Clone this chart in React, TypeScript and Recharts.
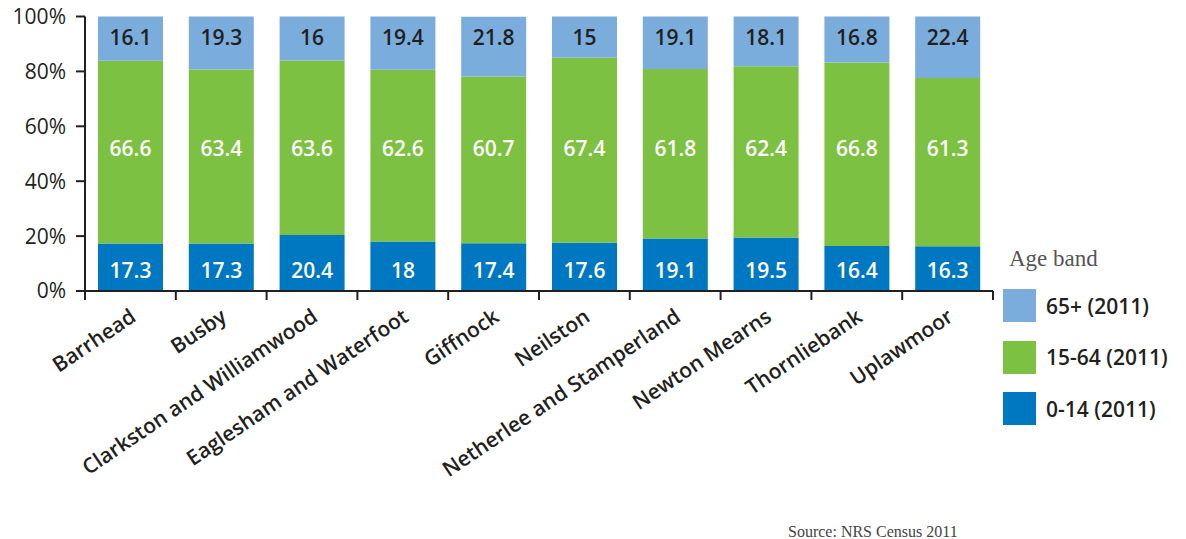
import { Bar, BarChart, LabelList, XAxis, YAxis } from "recharts"

const categories = [
  "Barrhead",
  "Busby",
  "Clarkston and Williamwood",
  "Eaglesham and Waterfoot",
  "Giffnock",
  "Neilston",
  "Netherlee and Stamperland",
  "Newton Mearns",
  "Thornliebank",
  "Uplawmoor",
]
const age0to14 = [17.3, 17.3, 20.4, 18, 17.4, 17.6, 19.1, 19.5, 16.4, 16.3]
const age15to64 = [66.6, 63.4, 63.6, 62.6, 60.7, 67.4, 61.8, 62.4, 66.8, 61.3]
const age65plus = [16.1, 19.3, 16, 19.4, 21.8, 15, 19.1, 18.1, 16.8, 22.4]
const yTicks = [0, 20, 40, 60, 80, 100]

const seriesInfo = [
  { key: "old", name: "65+ (2011)", color: "#7aaddc" },
  { key: "mid", name: "15-64 (2011)", color: "#7dc142" },
  { key: "young", name: "0-14 (2011)", color: "#0078c1" },
]

const data = categories.map((name, i) => ({
  name,
  young: age0to14[i],
  mid: age15to64[i],
  old: age65plus[i],
}))

const FONT = "'Open Sans', sans-serif"
const SERIF = "'Liberation Serif', 'Times New Roman', serif"
const TEXT = "#231f20"
const PLOT_TOP = 16.5
const PLOT_BOTTOM = 291

function box(props) {
  const vb = props.viewBox ?? props
  return { x: vb.x, y: vb.y, width: vb.width, height: vb.height }
}

function valueLabel(kind) {
  return (props) => {
    const { x, y, width, height } = box(props)
    let cy
    if (kind === "old") cy = y + 20
    else if (kind === "young") cy = y + height - 21
    else cy = PLOT_BOTTOM - 0.52 * (PLOT_BOTTOM - PLOT_TOP)
    return (
      <text
        x={x + width / 2}
        y={cy}
        textAnchor="middle"
        dominantBaseline="central"
        fontFamily={FONT}
        fontWeight={600}
        fontSize={21}
        fill={kind === "old" ? TEXT : "#ffffff"}
      >
        {props.value}
      </text>
    )
  }
}

function CategoryTick(props) {
  const { x, y, payload, index } = props
  const half = payload?.offset || 45.4
  const tx = x + 7
  const ty = y + 29
  return (
    <g>
      <line x1={x - half} y1={y} x2={x - half} y2={y + 9} stroke={TEXT} strokeWidth={2} />
      {index === categories.length - 1 && (
        <line x1={x + half} y1={y} x2={x + half} y2={y + 9} stroke={TEXT} strokeWidth={2} />
      )}
      <text
        x={tx}
        y={ty}
        textAnchor="end"
        transform={`rotate(-34, ${tx}, ${ty})`}
        fontFamily={FONT}
        fontWeight={600}
        fontSize={21}
        fill={TEXT}
      >
        {payload.value}
      </text>
    </g>
  )
}

export default function App() {
  return (
    <div style={{ position: "relative", width: 1186, height: 539, background: "#fff" }}>
      <style>{"body{margin:0}"}</style>
      <BarChart
        width={1186}
        height={539}
        data={data}
        barSize={65}
        margin={{ top: PLOT_TOP, right: 193, bottom: 48, left: 0 }}
      >
        <XAxis
          dataKey="name"
          interval={0}
          height={200}
          tickSize={0}
          tickMargin={0}
          tickLine={false}
          axisLine={{ stroke: TEXT, strokeWidth: 2 }}
          tick={<CategoryTick />}
        />
        <YAxis
          width={85}
          domain={[0, 100]}
          ticks={yTicks}
          tickFormatter={(v) => `${v}%`}
          tickSize={9}
          tickMargin={10}
          axisLine={{ stroke: TEXT, strokeWidth: 2 }}
          tickLine={{ stroke: TEXT, strokeWidth: 2 }}
          tick={{ fontFamily: FONT, fontSize: 21, fill: TEXT }}
        />
        <Bar dataKey="young" stackId="a" fill="#0078c1" isAnimationActive={false}>
          <LabelList dataKey="young" content={valueLabel("young")} />
        </Bar>
        <Bar dataKey="mid" stackId="a" fill="#7dc142" isAnimationActive={false}>
          <LabelList dataKey="mid" content={valueLabel("mid")} />
        </Bar>
        <Bar dataKey="old" stackId="a" fill="#7aaddc" isAnimationActive={false}>
          <LabelList dataKey="old" content={valueLabel("old")} />
        </Bar>
      </BarChart>

      <div
        style={{
          position: "absolute",
          left: 1009,
          top: 247,
          fontFamily: SERIF,
          fontSize: 23,
          color: "#555",
          lineHeight: "24px",
        }}
      >
        Age band
      </div>
      {seriesInfo.map((s, i) => (
        <div
          key={s.key}
          style={{
            position: "absolute",
            left: 1003,
            top: 289 + i * 51.5,
            display: "flex",
            alignItems: "center",
            height: 33,
          }}
        >
          <div style={{ width: 33, height: 33, background: s.color }} />
          <span
            style={{
              marginLeft: 10,
              fontFamily: FONT,
              fontWeight: 600,
              fontSize: 21,
              color: TEXT,
              whiteSpace: "nowrap",
            }}
          >
            {s.name}
          </span>
        </div>
      ))}
      <div
        style={{
          position: "absolute",
          left: 788,
          top: 524,
          fontFamily: SERIF,
          fontSize: 16,
          color: "#444",
          lineHeight: "16px",
          whiteSpace: "nowrap",
        }}
      >
        Source: NRS Census 2011
      </div>
    </div>
  )
}
